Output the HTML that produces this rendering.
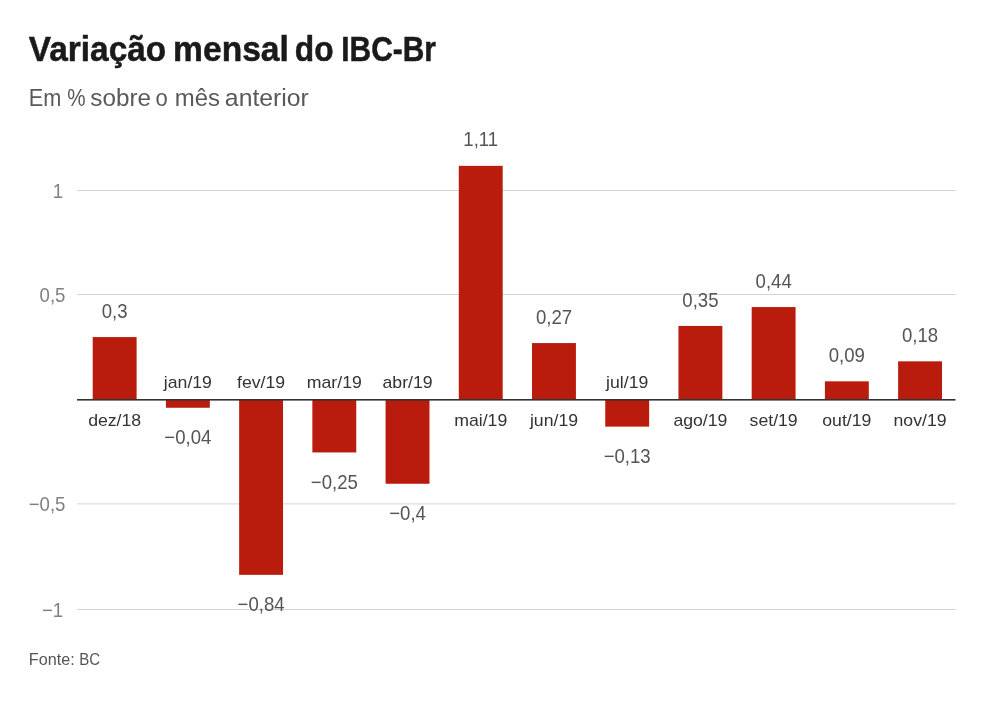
<!DOCTYPE html>
<html><head><meta charset="utf-8"><style>
html,body{margin:0;padding:0;background:#fff;width:984px;height:710px;overflow:hidden}
svg{display:block;will-change:transform}
text{font-family:"Liberation Sans",sans-serif}
</style></head><body>
<svg width="984" height="710" viewBox="0 0 984 710">
<rect width="984" height="710" fill="#fff"/>
<text transform="translate(28.8,61) scale(0.9545,1)" font-size="35" font-weight="bold" stroke="#1a1a1a" stroke-width="0.5" fill="#1a1a1a">Variação</text>
<text transform="translate(173.08,61) scale(0.9603,1)" font-size="35" font-weight="bold" stroke="#1a1a1a" stroke-width="0.5" fill="#1a1a1a">mensal</text>
<text transform="translate(294.79,61) scale(0.9073,1)" font-size="35" font-weight="bold" stroke="#1a1a1a" stroke-width="0.5" fill="#1a1a1a">do</text>
<text transform="translate(341.29,61) scale(0.8546,1)" font-size="35" font-weight="bold" stroke="#1a1a1a" stroke-width="0.5" fill="#1a1a1a">IBC-Br</text>
<text transform="translate(28.69,106) scale(0.9061,1)" font-size="24" fill="#595959">Em</text>
<text transform="translate(67.14,106) scale(0.86,1)" font-size="24" fill="#595959">%</text>
<text transform="translate(90.29,106) scale(1.0121,1)" font-size="24" fill="#595959">sobre</text>
<text transform="translate(155.48,106) scale(0.9182,1)" font-size="24" fill="#595959">o</text>
<text transform="translate(174.8,106) scale(0.9976,1)" font-size="24" fill="#595959">mês</text>
<text transform="translate(224.87,106) scale(1.0325,1)" font-size="24" fill="#595959">anterior</text>
<text transform="translate(28.77,664.5) scale(0.9298,1)" font-size="17.4" fill="#555555">Fonte:</text>
<text transform="translate(79.14,664.5) scale(0.8636,1)" font-size="17.4" fill="#555555">BC</text>
<rect x="77" y="190.00" width="878.5" height="1" fill="#d4d4d4"/>
<text transform="translate(63.2,198.00) scale(0.93,1)" font-size="20" fill="#808080" text-anchor="end">1</text>
<rect x="77" y="294.00" width="878.5" height="1" fill="#d4d4d4"/>
<text transform="translate(65.4,302.00) scale(0.93,1)" font-size="20" fill="#808080" text-anchor="end">0,5</text>
<rect x="77" y="503.40" width="878.5" height="1" fill="#d4d4d4"/>
<text transform="translate(65.4,511.40) scale(0.93,1)" font-size="20" fill="#808080" text-anchor="end">−0,5</text>
<rect x="77" y="609.00" width="878.5" height="1" fill="#d4d4d4"/>
<text transform="translate(63.2,617.00) scale(0.93,1)" font-size="20" fill="#808080" text-anchor="end">−1</text>
<rect x="92.70" y="337.06" width="43.9" height="62.94" fill="#b91c0c"/>
<rect x="165.92" y="400.00" width="43.9" height="7.76" fill="#b91c0c"/>
<rect x="239.14" y="400.00" width="43.9" height="174.84" fill="#b91c0c"/>
<rect x="312.36" y="400.00" width="43.9" height="52.45" fill="#b91c0c"/>
<rect x="385.58" y="400.00" width="43.9" height="83.76" fill="#b91c0c"/>
<rect x="458.80" y="165.85" width="43.9" height="234.15" fill="#b91c0c"/>
<rect x="532.02" y="343.06" width="43.9" height="56.94" fill="#b91c0c"/>
<rect x="605.24" y="400.00" width="43.9" height="26.63" fill="#b91c0c"/>
<rect x="678.46" y="325.94" width="43.9" height="74.06" fill="#b91c0c"/>
<rect x="751.68" y="307.06" width="43.9" height="92.94" fill="#b91c0c"/>
<rect x="824.90" y="381.33" width="43.9" height="18.67" fill="#b91c0c"/>
<rect x="898.12" y="361.33" width="43.9" height="38.67" fill="#b91c0c"/>
<rect x="77" y="399" width="878.5" height="1.6" fill="#333333"/>
<text transform="translate(114.65,317.66) scale(0.93,1)" font-size="20" fill="#555555" text-anchor="middle">0,3</text>
<text transform="translate(114.65,426.00) scale(1.04,1)" font-size="17" fill="#333333" text-anchor="middle">dez/18</text>
<text transform="translate(187.87,444.26) scale(0.93,1)" font-size="20" fill="#555555" text-anchor="middle">−0,04</text>
<text transform="translate(187.87,388.00) scale(1.04,1)" font-size="17" fill="#333333" text-anchor="middle">jan/19</text>
<text transform="translate(261.09,611.34) scale(0.93,1)" font-size="20" fill="#555555" text-anchor="middle">−0,84</text>
<text transform="translate(261.09,388.00) scale(1.04,1)" font-size="17" fill="#333333" text-anchor="middle">fev/19</text>
<text transform="translate(334.31,488.95) scale(0.93,1)" font-size="20" fill="#555555" text-anchor="middle">−0,25</text>
<text transform="translate(334.31,388.00) scale(1.04,1)" font-size="17" fill="#333333" text-anchor="middle">mar/19</text>
<text transform="translate(407.53,520.26) scale(0.93,1)" font-size="20" fill="#555555" text-anchor="middle">−0,4</text>
<text transform="translate(407.53,388.00) scale(1.04,1)" font-size="17" fill="#333333" text-anchor="middle">abr/19</text>
<text transform="translate(480.75,146.45) scale(0.93,1)" font-size="20" fill="#555555" text-anchor="middle">1,11</text>
<text transform="translate(480.75,426.00) scale(1.04,1)" font-size="17" fill="#333333" text-anchor="middle">mai/19</text>
<text transform="translate(553.97,323.66) scale(0.93,1)" font-size="20" fill="#555555" text-anchor="middle">0,27</text>
<text transform="translate(553.97,426.00) scale(1.04,1)" font-size="17" fill="#333333" text-anchor="middle">jun/19</text>
<text transform="translate(627.19,463.13) scale(0.93,1)" font-size="20" fill="#555555" text-anchor="middle">−0,13</text>
<text transform="translate(627.19,388.00) scale(1.04,1)" font-size="17" fill="#333333" text-anchor="middle">jul/19</text>
<text transform="translate(700.41,306.54) scale(0.93,1)" font-size="20" fill="#555555" text-anchor="middle">0,35</text>
<text transform="translate(700.41,426.00) scale(1.04,1)" font-size="17" fill="#333333" text-anchor="middle">ago/19</text>
<text transform="translate(773.63,287.66) scale(0.93,1)" font-size="20" fill="#555555" text-anchor="middle">0,44</text>
<text transform="translate(773.63,426.00) scale(1.04,1)" font-size="17" fill="#333333" text-anchor="middle">set/19</text>
<text transform="translate(846.85,361.93) scale(0.93,1)" font-size="20" fill="#555555" text-anchor="middle">0,09</text>
<text transform="translate(846.85,426.00) scale(1.04,1)" font-size="17" fill="#333333" text-anchor="middle">out/19</text>
<text transform="translate(920.07,341.93) scale(0.93,1)" font-size="20" fill="#555555" text-anchor="middle">0,18</text>
<text transform="translate(920.07,426.00) scale(1.04,1)" font-size="17" fill="#333333" text-anchor="middle">nov/19</text>
</svg></body></html>
